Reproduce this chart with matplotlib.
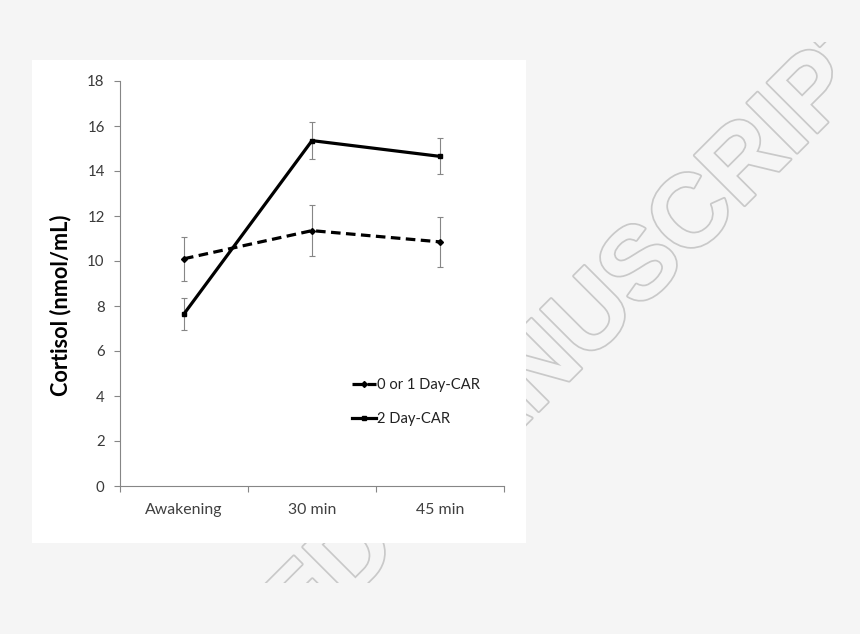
import matplotlib
matplotlib.use('Agg')
import matplotlib.pyplot as plt
import matplotlib.patheffects as pe
from matplotlib.patches import Rectangle

plt.rcParams['font.family'] = ['Lato', 'DejaVu Sans']

# data
timepoints = ['Awakening', '30 min', '45 min']
car_0_1 = [10.1, 11.35, 10.85]
car_0_1_err = [0.97, 1.13, 1.1]
car_2 = [7.65, 15.35, 14.65]
car_2_err = [0.72, 0.83, 0.8]
series_labels = ['0 or 1 Day-CAR', '2 Day-CAR']
y_ticks = [0, 2, 4, 6, 8, 10, 12, 14, 16, 18]

W, H = 860, 634
fig = plt.figure(figsize=(W/100, H/100), dpi=100)
fig.patch.set_facecolor('#f5f5f5')

# watermark behind the white panel
wm = fig.text(905/W, 1 - 45/H, 'ACCEPTED MANUSCRIPT', rotation=45,
              rotation_mode='anchor', ha='right', va='baseline',
              fontsize=74, fontweight='bold', family='Liberation Sans',
              color='#f5f5f5', zorder=-3,
              path_effects=[pe.withStroke(linewidth=2.5, foreground='#c9c9c9')])
clip = Rectangle((0, 1 - 583/H), 842/W, (583 - 42)/H, transform=fig.transFigure)
wm.set_clip_path(clip)

# white panel
fig.patches.append(Rectangle((32/W, 1 - 543/H), (526 - 32)/W, (543 - 60)/H,
                             transform=fig.transFigure, facecolor='white',
                             edgecolor='none', zorder=-2))

ax = fig.add_axes([120/W, 1 - 486/H, (504 - 120)/W, (486 - 81)/H])
ax.set_facecolor('none')
x = range(len(timepoints))

grey = '#868686'
ax.errorbar(x, car_0_1, yerr=car_0_1_err, fmt='none', ecolor=grey,
            elinewidth=0.8, capsize=2.2, capthick=0.8, zorder=2)
ax.errorbar(x, car_2, yerr=car_2_err, fmt='none', ecolor=grey,
            elinewidth=0.8, capsize=2.2, capthick=0.8, zorder=2)
ax.plot(x, car_0_1, color='black', lw=2.3, ls=(0, (3, 1.7)), marker='D',
        ms=3, label=series_labels[0], zorder=3)
ax.plot(x, car_2, color='black', lw=2.3, marker='s', ms=3.5,
        label=series_labels[1], zorder=3)

ax.set_xlim(-0.5, 2.5)
ax.set_ylim(0, 18)
ax.set_yticks(y_ticks)
ax.set_xticks(list(x))
ax.set_xticklabels(timepoints)
ax.set_xticks([-0.5, 0.5, 1.5, 2.5], minor=True)
ax.tick_params(axis='x', which='major', length=0, pad=12, labelsize=11.4,
               labelcolor='#404040')
ax.tick_params(axis='x', which='minor', length=4, width=0.8, color=grey,
               direction='out')
ax.tick_params(axis='y', length=4, width=0.8, color=grey, pad=7,
               labelsize=10.8, labelcolor='#3a3a3a')
for side in ['top', 'right']:
    ax.spines[side].set_visible(False)
for side in ['left', 'bottom']:
    ax.spines[side].set_color(grey)
    ax.spines[side].set_linewidth(0.8)

fig.text(61/W, 1 - 305/H, 'Cortisol (nmol/mL)', rotation=90, ha='center',
         va='center', fontsize=15.6, fontweight='bold', color='black')

ax.legend(loc='upper left', bbox_to_anchor=(352/W, 1 - 378/H),
          bbox_transform=fig.transFigure, frameon=False, fontsize=10.6,
          handlelength=1.6, handletextpad=0.1, labelspacing=1.35,
          borderpad=0, borderaxespad=0, labelcolor='#222222')

fig.savefig('out.png', dpi=100, facecolor=fig.get_facecolor())
